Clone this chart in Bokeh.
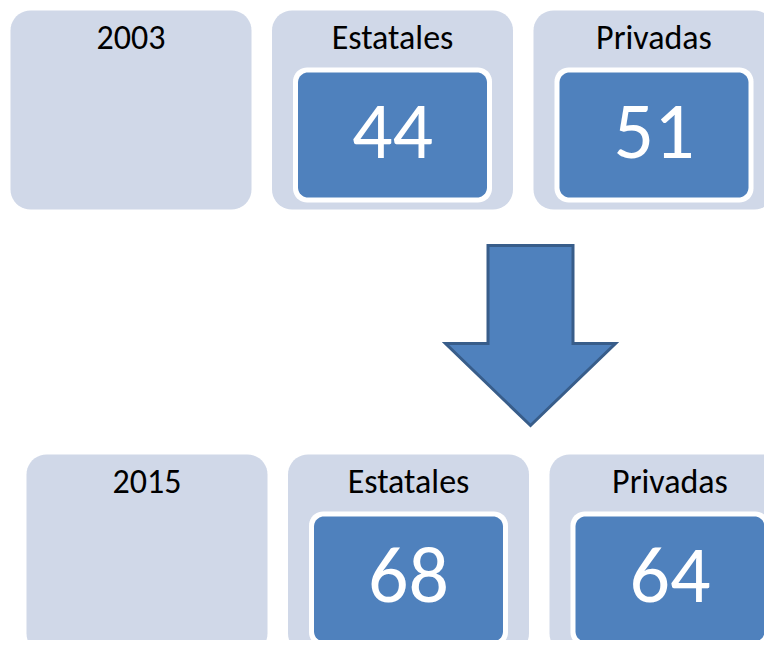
import math
from bokeh.plotting import figure
from bokeh.models import Range1d
from bokeh.core.properties import value
from bokeh.embed import file_html
from bokeh.resources import INLINE

# ---- data ----
years = ["2003", "2015"]
categories = ["Estatales", "Privadas"]
estatales = [44, 68]
privadas = [51, 64]

# ---- layout (pixel space of the picture) ----
W, H = 764, 640
X0, Y0 = 0, 0
row_origin = [(10, 10), (26, 454)]
box_step = 261.5
box_w, box_h = 241, 199
inner_l, inner_r, inner_t, inner_b = 21, 220, 57, 192
border = 5
FONT = "Calibri, Carlito, Lato"

OUTER = "#d0d8e8"
BLUE = "#4f81bd"
DARK = "#385d8a"


def rrect(x0, y0, x1, y1, r, n=10):
    xs, ys = [], []
    corners = [(x0 + r, y0 + r, 180), (x1 - r, y0 + r, 270),
               (x1 - r, y1 - r, 0), (x0 + r, y1 - r, 90)]
    for cx, cy, a0 in corners:
        for i in range(n + 1):
            a = math.radians(a0 + 90 * i / n)
            xs.append(cx + r * math.cos(a))
            ys.append(cy + r * math.sin(a))
    return xs, ys


p = figure(width=W, height=H, output_backend="svg", toolbar_location=None,
           x_range=Range1d(X0, X0 + W), y_range=Range1d(Y0 + H, Y0),
           min_border=0)
p.axis.visible = False
p.grid.visible = False
p.outline_line_color = None
p.background_fill_color = "white"

outer_xs, outer_ys = [], []
white_xs, white_ys = [], []
blue_xs, blue_ys = [], []
lab_x, lab_y, lab_t = [], [], []
num_x, num_y, num_t = [], [], []

for r_i, year in enumerate(years):
    ox, oy = row_origin[r_i]
    labels = [year] + categories
    nums = [None, estatales[r_i], privadas[r_i]]
    for c_i, lab in enumerate(labels):
        bx = ox + c_i * box_step
        xs, ys = rrect(bx, oy, bx + box_w, oy + box_h, 20)
        outer_xs.append(xs); outer_ys.append(ys)
        lab_x.append(bx + box_w / 2); lab_y.append(oy + 27); lab_t.append(lab)
        if nums[c_i] is not None:
            l, r = bx + inner_l, bx + inner_r
            t, b = oy + inner_t, oy + inner_b
            xs, ys = rrect(l, t, r, b, 14)
            white_xs.append(xs); white_ys.append(ys)
            xs, ys = rrect(l + border, t + border, r - border, b - border, 10)
            blue_xs.append(xs); blue_ys.append(ys)
            num_x.append((l + r) / 2); num_y.append((t + b) / 2 - 3)
            num_t.append(str(nums[c_i]))

p.patches(outer_xs, outer_ys, fill_color=OUTER, line_color=None)
p.patches(white_xs, white_ys, fill_color="white", line_color=None)
p.patches(blue_xs, blue_ys, fill_color=BLUE, line_color=None)

p.text(x=lab_x, y=lab_y, text=lab_t, text_font=value(FONT),
       text_font_size="34px", text_color="black",
       text_align="center", text_baseline="middle")
p.text(x=num_x, y=num_y, text=num_t, text_font=value(FONT),
       text_font_size="80px", text_color="white",
       text_align="center", text_baseline="middle")

# arrow
acx, atop, ashoulder, atip = 530, 245, 343, 425
shaft_hw, head_hw = 42.5, 85
arrow_x = [acx - shaft_hw, acx + shaft_hw, acx + shaft_hw, acx + head_hw,
           acx, acx - head_hw, acx - shaft_hw]
arrow_y = [atop, atop, ashoulder, ashoulder, atip, ashoulder, ashoulder]
p.patch(arrow_x, arrow_y, fill_color=BLUE, line_color=DARK, line_width=3,
        line_join="miter")

open("out.html", "w").write(file_html(p, INLINE))
